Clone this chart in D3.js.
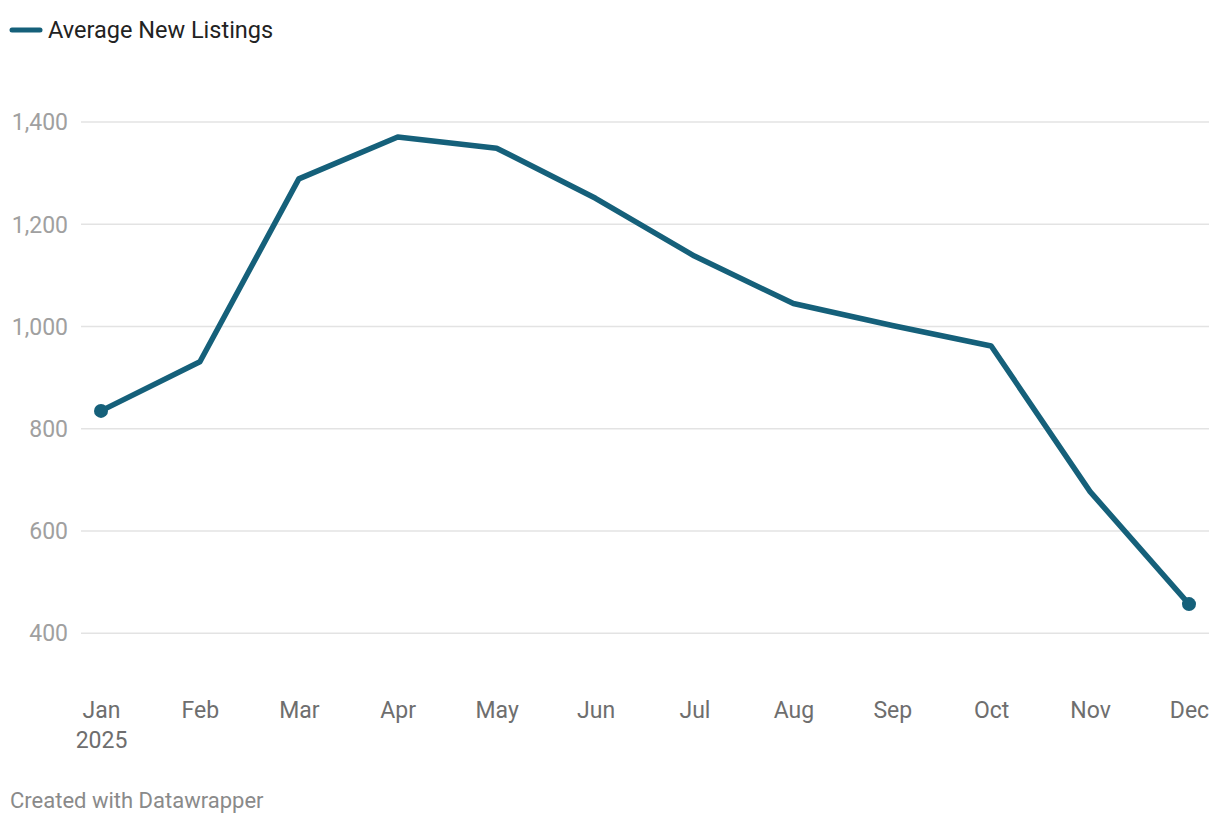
<!DOCTYPE html>
<html><head><meta charset="utf-8">
<script src="https://cdn.jsdelivr.net/npm/d3@7/dist/d3.min.js"></script>
<style>body{margin:0;background:#fff;font-family:Roboto,sans-serif;}</style>
</head><body><svg id="c" width="1220" height="830"></svg>
<script>
const months = ["Jan","Feb","Mar","Apr","May","Jun","Jul","Aug","Sep","Oct","Nov","Dec"];
const values = [834,930,1288,1370,1348,1250,1137,1044,1001,961,676,456];
const yTicks = [400,600,800,1000,1200,1400];
const seriesName = "Average New Listings";
const color = "#15607a";

const svg = d3.select("#c");
const x = d3.scalePoint().domain(months).range([101,1189]);
const y = d3.scaleLinear().domain([400,1400]).range([632.7,121.6]);

// gridlines
const yAxis = d3.axisLeft(y).tickValues(yTicks).tickSize(-(1209-81)).tickPadding(13).tickFormat(d3.format(","));
const gy = svg.append("g").attr("transform","translate(81,0)").call(yAxis);
gy.select(".domain").remove();
gy.selectAll(".tick line").attr("stroke","#e3e3e3").attr("stroke-width",1.5);
gy.selectAll(".tick text").attr("fill","#a0a0a0").attr("font-size","23px").attr("font-family","Roboto").attr("dy","0.36em");

// x axis
const xAxis = d3.axisBottom(x).tickSize(0).tickPadding(0);
const gx = svg.append("g").attr("transform","translate(0,718)").call(xAxis);
gx.select(".domain").remove();
gx.selectAll(".tick text").attr("fill","#6e6e6e").attr("font-size","23px").attr("font-family","Roboto").attr("dy","0");
gx.selectAll(".tick").filter(d=>d==="Jan").append("text")
  .attr("y",30).attr("fill","#6e6e6e").attr("font-size","23px").attr("font-family","Roboto").attr("text-anchor","middle").text("2025");

// line
const line = d3.line().x((d,i)=>x(months[i])).y(d=>y(d));
svg.append("path").datum(values).attr("d",line).attr("fill","none").attr("stroke",color)
  .attr("stroke-width",5.5).attr("stroke-linejoin","round");
[0, values.length-1].forEach(i=>{
  svg.append("circle").attr("cx",x(months[i])).attr("cy",y(values[i])).attr("r",7).attr("fill",color);
});

// legend
svg.append("line").attr("x1",12).attr("x2",40).attr("y1",30).attr("y2",30).attr("stroke",color).attr("stroke-width",5).attr("stroke-linecap","round");
svg.append("text").attr("x",48).attr("y",37.5).attr("font-size","23.5px").attr("fill","#222").attr("font-family","Roboto").text(seriesName);

// footer
svg.append("text").attr("x",10).attr("y",808).attr("font-size","22px").attr("fill","#8a8a8a").attr("font-family","Roboto").text("Created with Datawrapper");
</script></body></html>
